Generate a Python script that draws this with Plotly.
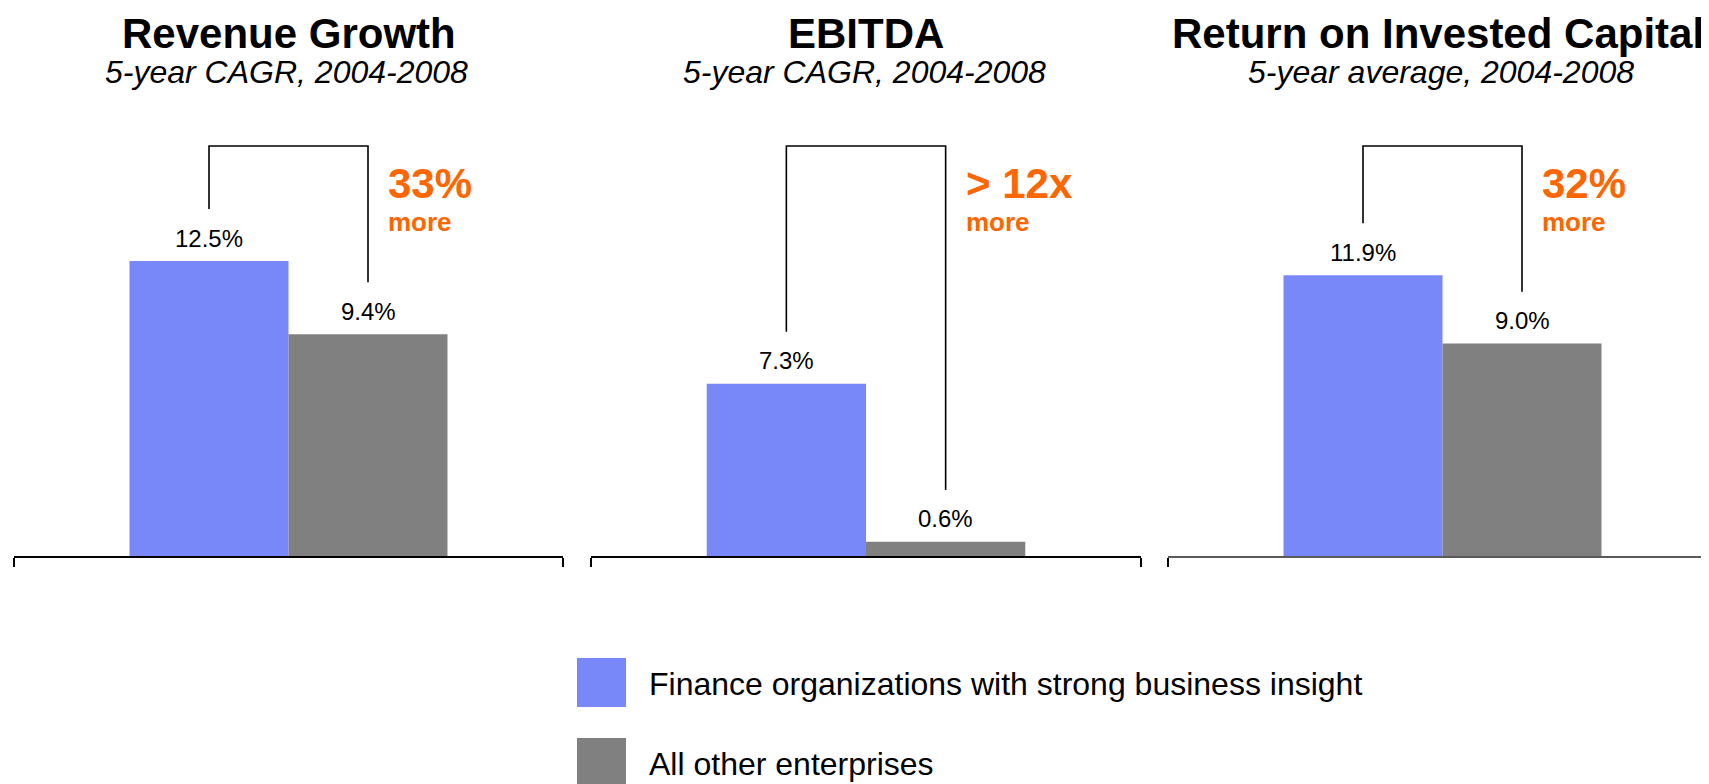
import plotly.graph_objects as go

# ---- data ----
panels = ["Revenue Growth", "EBITDA", "Return on Invested Capital"]
subtitles = ["5-year CAGR, 2004-2008", "5-year CAGR, 2004-2008", "5-year average, 2004-2008"]
strong_insight = [12.5, 7.3, 11.9]
all_others = [9.4, 0.6, 9.0]
callouts = ["33%", "> 12x", "32%"]
callout_sub = ["more", "more", "more"]
series_names = ["Finance organizations with strong business insight", "All other enterprises"]

# ---- style ----
BLUE = "#7888F8"
GRAY = "#808080"
ORANGE = "#FF6600"
FONT = "Liberation Sans, Arial, sans-serif"
PAGE_W, PAGE_H = 1709, 784
OFF = 8                      # default page body margin
W, H = PAGE_W - OFF, PAGE_H - OFF


def px_x(p):
    return (p - OFF) / W


def px_y(p):
    return 1 - (p - OFF) / H


BAR_W = 0.2896
PX_PER_UNIT = 23.6
Y0_PX = 556          # baseline (page pixel)
YTOP_PX = 100        # top of y domain (page pixel)
YMAX = (Y0_PX - YTOP_PX) / PX_PER_UNIT
BRACKET_TOP = 17.37
BRACKET_GAP = 2.2

# panel page-pixel extents (left, right) -- third is clipped by the page edge
panel_px = [(14, 563), (591, 1141), (1168, 1717)]

fig = go.Figure()
layout_axes = {}
shapes = []
annotations = []

for i, (name, sub) in enumerate(zip(panels, subtitles)):
    n = "" if i == 0 else str(i + 1)
    xa, ya = "x" + n, "y" + n
    left, right = panel_px[i]
    width_px = right - left
    dom_right = min(right, PAGE_W)
    xmax = -0.5 + (dom_right - left) / width_px

    fig.add_trace(go.Bar(x=[0], y=[strong_insight[i]], width=BAR_W, offset=-BAR_W,
                         marker=dict(color=BLUE, line=dict(width=0)),
                         name=series_names[0], showlegend=False, xaxis=xa, yaxis=ya,
                         hoverinfo="y"))
    fig.add_trace(go.Bar(x=[0], y=[all_others[i]], width=BAR_W, offset=0,
                         marker=dict(color=GRAY, line=dict(width=0)),
                         name=series_names[1], showlegend=False, xaxis=xa, yaxis=ya,
                         hoverinfo="y"))

    tickvals = [-0.5, 0.5] if xmax >= 0.5 else [-0.5]
    lc = "#000000" if i < 2 else "#5a5a5a"
    layout_axes["xaxis" + n] = dict(domain=[max(px_x(left), 0), min(px_x(dom_right), 1)],
                                    range=[-0.5, xmax],
                                    showgrid=False, zeroline=False, showline=True,
                                    linecolor=lc, linewidth=1.5, ticks="outside",
                                    tickvals=tickvals, ticklen=9, tickcolor="#000000",
                                    tickwidth=1.5, showticklabels=False, fixedrange=True,
                                    anchor=ya)
    layout_axes["yaxis" + n] = dict(domain=[px_y(Y0_PX), px_y(YTOP_PX)], range=[0, YMAX],
                                    visible=False, fixedrange=True, anchor=xa)

    cx_blue, cx_gray = -BAR_W / 2, BAR_W / 2
    # bracket
    yb1 = strong_insight[i] + BRACKET_GAP
    yb2 = all_others[i] + BRACKET_GAP
    shapes.append(dict(type="path", xref=xa, yref=ya,
                       path=f"M {cx_blue} {yb1} L {cx_blue} {BRACKET_TOP} L {cx_gray} {BRACKET_TOP} L {cx_gray} {yb2}",
                       line=dict(color="#000000", width=1.6)))
    # value labels
    for cx, v in ((cx_blue, strong_insight[i]), (cx_gray, all_others[i])):
        annotations.append(dict(x=cx, y=v, xref=xa, yref=ya, text=f"{v:.1f}%",
                                showarrow=False, yanchor="middle", yshift=23,
                                font=dict(family=FONT, size=24, color="#000000")))
    # callouts
    annotations.append(dict(x=cx_gray, y=15.8, xref=xa, yref=ya, text=f"<b>{callouts[i]}</b>",
                            showarrow=False, xanchor="left", yanchor="middle", xshift=18,
                            font=dict(family=FONT, size=42, color=ORANGE)))
    annotations.append(dict(x=cx_gray, y=14.15, xref=xa, yref=ya, text=f"<b>{callout_sub[i]}</b>",
                            showarrow=False, xanchor="left", yanchor="middle", xshift=18,
                            font=dict(family=FONT, size=26, color=ORANGE)))
    # titles
    cx_px = (left + right) / 2
    if right > PAGE_W:
        tx, txa, tsh = 1.0, "right", -3
    else:
        tx, txa, tsh = px_x(cx_px), "center", 0
    annotations.append(dict(x=tx, y=1.0, xref="paper", yref="paper", xshift=tsh,
                            text=f"<b>{name}</b>", showarrow=False, xanchor=txa,
                            yanchor="top", font=dict(family=FONT, size=42, color="#000000")))
    annotations.append(dict(x=px_x(cx_px - 2), y=px_y(72), xref="paper", yref="paper",
                            text=f"<i>{sub}</i>", showarrow=False, xanchor="center",
                            yanchor="middle", font=dict(family=FONT, size=32, color="#000000")))

# custom legend
legend_rows = [(658, 707, BLUE, series_names[0]), (738, 787, GRAY, series_names[1])]
for top, bot, col, label in legend_rows:
    shapes.append(dict(type="rect", xref="paper", yref="paper",
                       x0=px_x(577), x1=px_x(626), y0=px_y(bot), y1=px_y(top),
                       fillcolor=col, line=dict(width=0)))
    annotations.append(dict(x=px_x(647), y=px_y((top + bot) / 2 + 1), xref="paper", yref="paper",
                            text=label, showarrow=False, xanchor="left", yanchor="middle",
                            font=dict(family=FONT, size=32, color="#000000")))

fig.update_layout(width=W, height=H, margin=dict(l=0, r=0, t=0, b=0),
                  paper_bgcolor="white", plot_bgcolor="white", barmode="overlay",
                  showlegend=False, shapes=shapes, annotations=annotations,
                  font=dict(family=FONT), **layout_axes)

fig.write_html("out.html", config={"displayModeBar": False})
